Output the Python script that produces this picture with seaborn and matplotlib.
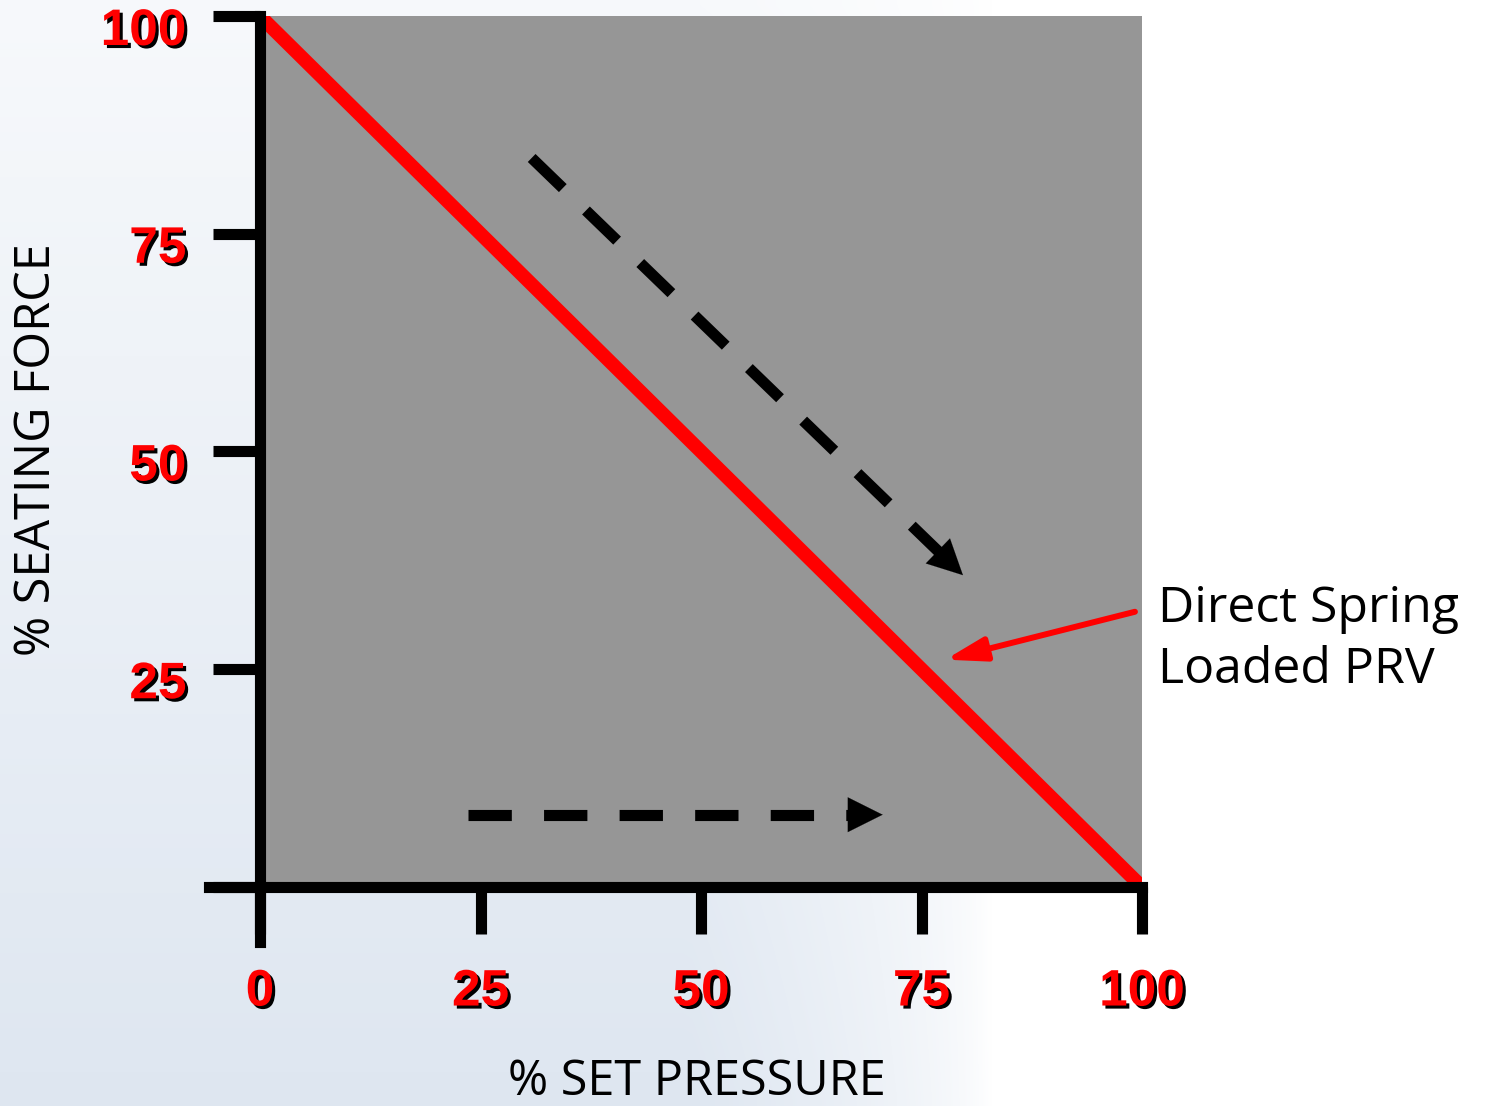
import numpy as np
import pandas as pd
import matplotlib
matplotlib.use("Agg")
import matplotlib.pyplot as plt
import matplotlib.patheffects as pe
import matplotlib.transforms as mtransforms
import seaborn as sns

# ---- data ----
set_pressure = [0, 100]
seating_force = [100, 0]
x_ticks = [0, 25, 50, 75, 100]
x_tick_labels = ["0", "25", "50", "75", "100"]
y_ticks = [0, 25, 50, 75, 100]
y_tick_labels = ["", "25", "50", "75", "100"]
diag_arrow = [(30.8, 83.7), (79.7, 35.8)]
horiz_arrow = [(23.6, 8.3), (70.6, 8.3)]
callout_tip = (77.7, 26.1)
callout_tail = (99.2, 31.6)
callout_text = "Direct Spring\nLoaded PRV"
x_label = "% SET PRESSURE"
y_label = "% SEATING FORCE"

sns.set_theme(style="white")
plt.rcParams['font.family'] = ['Open Sans', 'DejaVu Sans']

W, H = 1485, 1106
fig = plt.figure(figsize=(W / 100, H / 100), dpi=100, facecolor="white")

# background decoration (light blue-grey wash on the left)
bg = fig.add_axes([0, 0, 1, 1], zorder=-10)
ny, nx = 111, 149
yy, xx = np.mgrid[0:ny, 0:nx]
px = xx / (nx - 1) * W
py = yy / (ny - 1) * H
alpha = np.clip(0.2 + 0.6 * (py / H), 0, 1) * np.clip((990 - px) / 300, 0, 1) ** 0.6
alpha[px > 990] = 0
base = np.array([0.84, 0.88, 0.93])
img = 1 - alpha[..., None] * (1 - base[None, None, :])
bg.imshow(img, extent=[0, 1, 0, 1], aspect="auto", interpolation="bilinear")
bg.set_axis_off()

ax = fig.add_axes([260 / W, 1 - 887 / H, (1142 - 260) / W, (887 - 16) / H])
ax.set_facecolor("#969696")
ax.set_xlim(0, 100)
ax.set_ylim(0, 100)

df = pd.DataFrame({"p": set_pressure, "f": seating_force})
sns.lineplot(data=df, x="p", y="f", color="#ff0000", linewidth=10, ax=ax,
             solid_capstyle="butt")

# dashed direction arrows
for (x0, y0), (x1, y1) in [diag_arrow, horiz_arrow]:
    dx, dy = x1 - x0, y1 - y0
    ax.plot([x0, x0 + 0.95 * dx], [y0, y0 + 0.95 * dy], color="black",
            linewidth=8, dashes=(3.9, 2.9), solid_capstyle="butt",
            dash_capstyle="butt")
    ax.annotate("", xy=(x1, y1), xytext=(x0 + 0.92 * dx, y0 + 0.92 * dy),
                arrowprops=dict(arrowstyle="-|>,head_length=1.0,head_width=0.5",
                                color="black", linewidth=0.1, mutation_scale=25,
                                shrinkA=0, shrinkB=0))

# callout arrow
ax.annotate("", xy=callout_tip, xytext=callout_tail, annotation_clip=False,
            arrowprops=dict(arrowstyle="-|>,head_length=1.0,head_width=0.3",
                            color="#ff0000", linewidth=4.3, mutation_scale=24,
                            shrinkA=0, shrinkB=0))
fig.text(1158 / W, 1 - 640 / H, callout_text, ha="left", va="center",
         fontsize=36, color="black", linespacing=1.3)

# axes styling
for s in ["top", "right"]:
    ax.spines[s].set_visible(False)
for s in ["left", "bottom"]:
    ax.spines[s].set_color("black")
    ax.spines[s].set_linewidth(8)
ax.spines["left"].set_bounds(-6.3, 100)
ax.spines["bottom"].set_bounds(-5.8, 100)

ax.set_xticks(x_ticks)
ax.set_xticklabels(x_tick_labels)
ax.set_yticks(y_ticks)
ax.set_yticklabels(y_tick_labels)
ax.tick_params(axis="both", direction="out", length=34, width=8, color="black",
               labelcolor="#ff0000", labelsize=37)
ax.tick_params(axis="x", pad=24, bottom=True)
ax.tick_params(axis="y", pad=19, left=True)
ax.set_xlabel("")
ax.set_ylabel("")

shadow = [pe.withSimplePatchShadow(offset=(2.2, -2.2), shadow_rgbFace="black", alpha=1.0)]
down = mtransforms.ScaledTranslation(0, -10 / 100, fig.dpi_scale_trans)
for lab in ax.get_xticklabels() + ax.get_yticklabels():
    lab.set_fontfamily(["Liberation Sans", "DejaVu Sans"])
    lab.set_fontweight("bold")
    lab.set_path_effects(shadow)
for lab in ax.get_yticklabels():
    lab.set_transform(lab.get_transform() + down)

fig.text(697 / W, 1 - 1082 / H, x_label, ha="center", va="center", fontsize=35,
         color="black")
fig.text(37 / W, 1 - 450 / H, y_label, ha="center", va="center", fontsize=35,
         rotation=90, color="black")

fig.savefig("out.png", dpi=100, facecolor="white")
